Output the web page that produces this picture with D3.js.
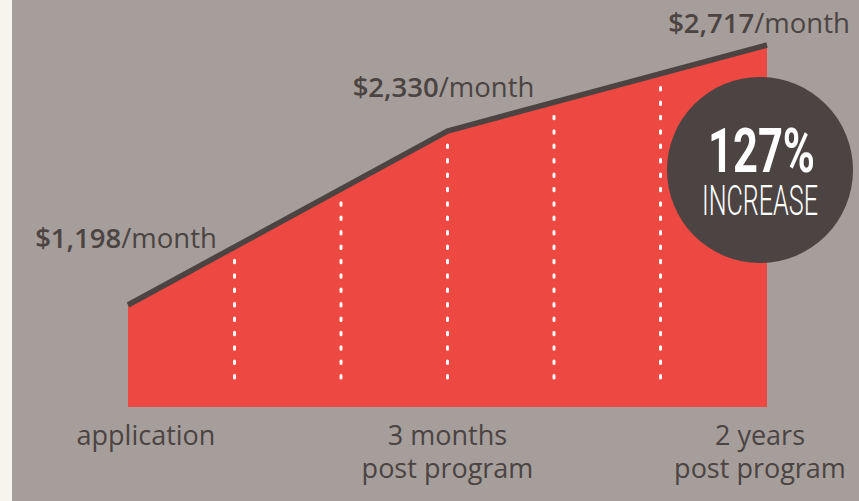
<!doctype html>
<html lang="en">
<head>
  <meta charset="UTF-8">
  <script src="https://cdn.jsdelivr.net/npm/d3@7/dist/d3.min.js"></script>
  <title>Income growth</title>
  <style>
    html, body { margin: 0; padding: 0; background: #f7f4ee; }
    svg { display: block; }
  </style>
</head>
<body>
  <div class="chart"></div>
  <script>
    // data
    const stages = ['application', '3 months|post program', '2 years|post program'];
    const stageSlot = [0, 3, 6];          // position on a 7-slot timeline
    const income = [1198, 2330, 2717];    // $ per month
    const gridSlots = [1, 2, 3, 4, 5];    // dotted guides

    const W = 859, H = 501;
    const colors = { bg: '#a69e9b', strip: '#f7f4ee', red: '#ed4841', dark: '#4b4442', white: '#ffffff' };
    const base = 407;

    const svg = d3.select('.chart').append('svg').attr('width', W).attr('height', H);
    svg.append('rect').attr('width', W).attr('height', H).attr('fill', colors.strip);
    svg.append('rect').attr('x', 12).attr('width', W - 12).attr('height', H).attr('fill', colors.bg);

    const x = d3.scaleLinear().domain([0, 6]).range([128, 767]);
    // infographic scale, not proportional: piecewise through the three readings
    const y = d3.scaleLinear().domain([0].concat(income)).range([base, 305, 131, 45]);

    const pts = income.map((v, i) => ({ v, slot: stageSlot[i] }));

    const area = d3.area().x(d => x(d.slot)).y0(base).y1(d => y(d.v));
    svg.append('path').datum(pts).attr('d', area).attr('fill', colors.red);

    // line height at any slot (pixel interpolation between readings)
    function lineY(slot) {
      for (let i = 0; i < pts.length - 1; i++) {
        const a = pts[i], b = pts[i + 1];
        if (slot >= a.slot && slot <= b.slot) {
          const t = (slot - a.slot) / (b.slot - a.slot);
          return y(a.v) + (y(b.v) - y(a.v)) * t;
        }
      }
      return y(pts[pts.length - 1].v);
    }

    svg.append('g').selectAll('line').data(gridSlots).enter().append('line')
      .attr('x1', d => x(d)).attr('x2', d => x(d))
      .attr('y1', 378).attr('y2', d => lineY(d) + 9)
      .attr('stroke', colors.white).attr('stroke-width', 3)
      .attr('stroke-linecap', 'round').attr('stroke-dasharray', '2.5 11.9');

    const line = d3.line().x(d => x(d.slot)).y(d => y(d.v));
    svg.append('path').datum(pts).attr('d', line)
      .attr('fill', 'none').attr('stroke', colors.dark).attr('stroke-width', 5.5);

    // value labels
    const valNudge = [{ dx: -2, dy: -57 }, { dx: -4, dy: -34 }, { dx: -8, dy: -12 }];
    const fmt = d3.format('$,');
    const vl = svg.append('g').selectAll('text').data(pts).enter().append('text')
      .attr('x', (d, i) => x(d.slot) + valNudge[i].dx)
      .attr('y', (d, i) => y(d.v) + valNudge[i].dy)
      .attr('text-anchor', 'middle')
      .attr('font-family', '"Open Sans", sans-serif').attr('font-size', 27.5)
      .attr('fill', colors.dark);
    vl.append('tspan').attr('font-weight', 600).text(d => fmt(d.v));
    vl.append('tspan').attr('font-weight', 400).text('/month');

    // stage labels
    const labNudge = [18, 0, -7];
    const sl = svg.append('g').selectAll('text').data(stages).enter().append('text')
      .attr('x', (d, i) => x(stageSlot[i]) + labNudge[i])
      .attr('y', base + 38)
      .attr('text-anchor', 'middle')
      .attr('font-family', '"Open Sans", sans-serif').attr('font-size', 27)
      .attr('fill', colors.dark);
    sl.each(function (d, i) {
      const parts = d.split('|');
      const cx = x(stageSlot[i]) + labNudge[i];
      parts.forEach((p, j) => {
        d3.select(this).append('tspan').attr('x', cx).attr('dy', j ? 33 : 0).text(p);
      });
    });

    // increase badge
    const pct = Math.round((income[2] - income[0]) / income[0] * 100);
    const cx = x(6) - 7, cy = 170;
    svg.append('circle').attr('cx', cx).attr('cy', cy).attr('r', 93).attr('fill', colors.dark);
    svg.append('text').attr('x', cx + 1.5).attr('y', cy + 2)
      .attr('text-anchor', 'middle').attr('font-family', 'Roboto, sans-serif')
      .attr('font-weight', 700).attr('font-size', 62).attr('fill', colors.white)
      .attr('textLength', 107).attr('lengthAdjust', 'spacingAndGlyphs')
      .text(pct + '%');
    svg.append('text').attr('x', cx).attr('y', cy + 45)
      .attr('text-anchor', 'middle').attr('font-family', 'Roboto, sans-serif')
      .attr('font-weight', 300).attr('font-size', 42).attr('fill', colors.white)
      .attr('textLength', 116).attr('lengthAdjust', 'spacingAndGlyphs')
      .text('INCREASE');
  </script>
</body>
</html>
